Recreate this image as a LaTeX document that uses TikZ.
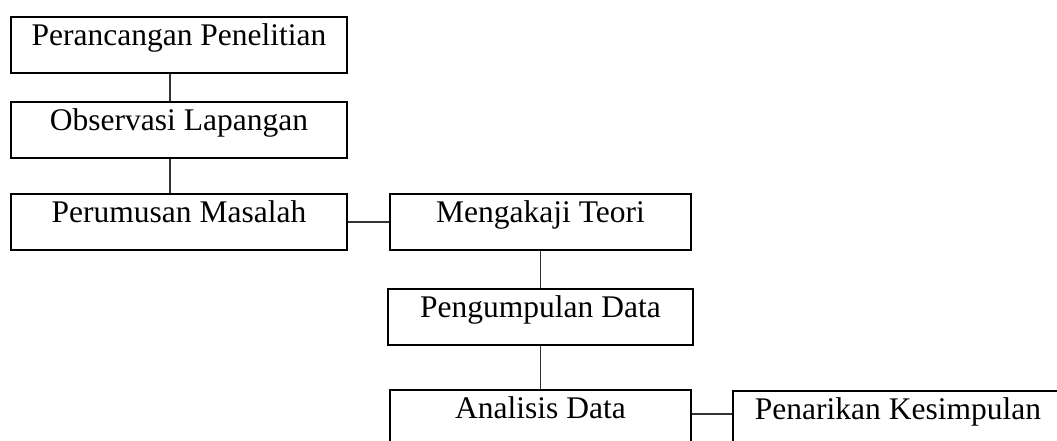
\documentclass[tikz,border=0pt]{standalone}
\usepackage{fontspec}
\setmainfont{Liberation Serif}
\usetikzlibrary{positioning}
\tikzset{x=1pt,y=-1pt}

\begin{document}
\begin{tikzpicture}
% Style
[
    line cap=butt,
    process box/.style={draw, line width=2pt, rectangle, anchor=north west,
        inner xsep=0pt, inner ysep=0pt, text height=28.5pt, text depth=27.5pt,
        font=\fontsize{31.5}{38}\selectfont},
    link line/.style={line width=1.3pt, black!80}
]

%=================================== Start ===================================
{
    \useasboundingbox (0, 0) rectangle (1057, 441);

    % Define: Boxes
    \node[process box, minimum width=336pt] (rancang) at (10, 16)  {Perancangan Penelitian};
    \node[process box, minimum width=336pt] (observasi) at (10, 101) {Observasi Lapangan};
    \node[process box, minimum width=336pt] (rumusan) at (10, 193) {Perumusan Masalah};
    \node[process box, minimum width=301pt] (teori) at (389, 193) {Mengakaji Teori};
    \node[process box, minimum width=305pt] (kumpul) at (387, 288) {Pengumpulan Data};
    \node[process box, minimum width=301pt] (analisis) at (389, 389) {Analisis Data};
    \node[process box, minimum width=330pt] (simpulan) at (732, 390) {Penarikan Kesimpulan};

    % Draw: Links
    \draw[link line] ([xshift=-9pt]rancang.south) -- ([xshift=-9pt]observasi.north);
    \draw[link line] ([xshift=-9pt]observasi.south) -- ([xshift=-9pt]rumusan.north);
    \draw[link line] (rumusan.east) -- (teori.west |- rumusan.east);
    \draw[link line] (teori.south) -- (kumpul.north);
    \draw[link line] (kumpul.south) -- (analisis.north);
    \draw[link line] ([yshift=4pt]analisis.east) -- ([yshift=4pt]analisis.east -| simpulan.west);
}
%==================================== END ====================================

\end{tikzpicture}
\end{document}
